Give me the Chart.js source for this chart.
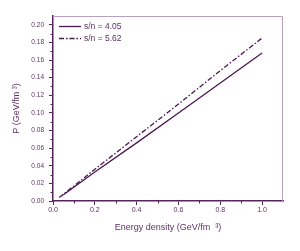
<!DOCTYPE html>
<html>
<head>
<meta charset="utf-8">
<script src="https://cdn.jsdelivr.net/npm/chart.js@4.4.0/dist/chart.umd.min.js"></script>
<style>
html,body{margin:0;padding:0;background:#fff;}
#wrap{width:300px;height:251px;}
</style>
</head>
<body>
<div id="wrap"><canvas id="eos"></canvas></div>
<script>

// ===== Data =====

const seriesNames = ["s/n = 4.05", "s/n = 5.62"];

const energyA   = [0.05, 0.2, 0.4, 0.6, 0.8, 1.0];
const pressureA = [0.007, 0.033, 0.066, 0.100, 0.134, 0.168];

const energyB   = [0.03, 0.2, 0.4, 0.6, 0.8, 1.0];
const pressureB = [0.004, 0.036, 0.073, 0.110, 0.148, 0.185];

const xTicks = [0.0, 0.2, 0.4, 0.6, 0.8, 1.0];
const yTicks = [0.00, 0.02, 0.04, 0.06, 0.08, 0.10, 0.12, 0.14, 0.16, 0.18, 0.20];
const xMinor = [0.1, 0.3, 0.5, 0.7, 0.9];
const yMinor = [0.01, 0.03, 0.05, 0.07, 0.09, 0.11, 0.13, 0.15, 0.17, 0.19];

const xTitle = "Energy density (GeV/fm  \u00B3)";
const yTitle = "P (GeV/fm \u00B3)";


// ===== Colours =====

const lineColor = "#4a1650";
const axisColor = "#55245c";
const textColor = "#5e3163";
const frameColor = "#b9a0c0";
const fontFamily = "Liberation Sans, Arial, sans-serif";

function toPoints(xs, ys){
    return xs.map((x,i)=>({x:x, y:ys[i]}));
}


// ===== Frame, minor ticks, legend =====

const framePlugin = {
    id:"frame",
    afterDraw(chart){
        const {ctx, chartArea:a, scales} = chart;
        ctx.save();
        ctx.strokeStyle = frameColor;
        ctx.lineWidth = 1;
        ctx.beginPath();
        ctx.moveTo(a.left, a.top + 0.5);
        ctx.lineTo(a.right - 0.5, a.top + 0.5);
        ctx.lineTo(a.right - 0.5, a.bottom);
        ctx.stroke();

        // minor ticks
        ctx.strokeStyle = axisColor;
        ctx.beginPath();
        xMinor.forEach(v=>{
            const px = Math.round(scales.x.getPixelForValue(v)) + 0.5;
            ctx.moveTo(px, a.bottom);
            ctx.lineTo(px, a.bottom + 2.5);
        });
        yMinor.forEach(v=>{
            const py = Math.round(scales.y.getPixelForValue(v)) + 0.5;
            ctx.moveTo(a.left, py);
            ctx.lineTo(a.left - 2.5, py);
        });
        ctx.stroke();

        // legend inside plot, top left
        ctx.font = "8.5px " + fontFamily;
        ctx.textBaseline = "middle";
        ctx.textAlign = "left";
        chart.data.datasets.forEach((ds,i)=>{
            const y = a.top + 10.5 + i*12;
            ctx.strokeStyle = ds.borderColor;
            ctx.lineWidth = ds.borderWidth;
            ctx.setLineDash(ds.borderDash || []);
            ctx.beginPath();
            ctx.moveTo(a.left + 6, y);
            ctx.lineTo(a.left + 28, y);
            ctx.stroke();
            ctx.setLineDash([]);
            ctx.fillStyle = textColor;
            ctx.fillText(ds.label, a.left + 31, y);
        });

        ctx.restore();
    }
};


// ===== Chart =====

const ctx = document.getElementById("eos").getContext("2d");

const eosChart = new Chart(ctx, {

    type:"scatter",

    data:{
        datasets:[
            {
                label:seriesNames[0],
                data:toPoints(energyA, pressureA),
                showLine:true,
                borderColor:lineColor,
                borderWidth:1.3,
                pointRadius:0,
                fill:false
            },
            {
                label:seriesNames[1],
                data:toPoints(energyB, pressureB),
                showLine:true,
                borderColor:lineColor,
                borderWidth:1.3,
                borderDash:[5,2,1.5,2],
                pointRadius:0,
                fill:false
            }
        ]
    },

    options:{
        responsive:true,
        maintainAspectRatio:false,
        animation:false,
        devicePixelRatio:1,
        layout:{padding:{top:16, right:17, left:0, bottom:0}},

        plugins:{
            tooltip:{enabled:false},
            legend:{display:false}
        },

        scales:{
            x:{
                type:"linear",
                min:0,
                max:1.1,
                afterBuildTicks:axis=>{ axis.ticks = xTicks.map(v=>({value:v})); },
                afterFit:axis=>{ axis.height = 50; },
                border:{color:axisColor, width:1.5},
                grid:{drawOnChartArea:false, drawTicks:true, tickLength:4, tickColor:axisColor, tickWidth:1},
                ticks:{
                    color:textColor,
                    padding:1,
                    maxRotation:0,
                    font:{family:fontFamily, size:7},
                    callback:v=>Number(v).toFixed(1)
                },
                title:{
                    display:true,
                    text:xTitle,
                    color:textColor,
                    padding:{top:0, bottom:17.6},
                    font:{family:fontFamily, size:9}
                }
            },
            y:{
                type:"linear",
                min:0,
                max:0.21,
                afterBuildTicks:axis=>{ axis.ticks = yTicks.map(v=>({value:v})); },
                afterFit:axis=>{ axis.width = 53; },
                border:{color:axisColor, width:1.5},
                grid:{drawOnChartArea:false, drawTicks:true, tickLength:4, tickColor:axisColor, tickWidth:1},
                ticks:{
                    color:textColor,
                    padding:5,
                    font:{family:fontFamily, size:6.5},
                    callback:v=>Number(v).toFixed(2)
                },
                title:{
                    display:true,
                    text:yTitle,
                    color:textColor,
                    padding:{top:11.6, bottom:0},
                    font:{family:fontFamily, size:9}
                }
            }
        }
    },

    plugins:[framePlugin]

});

</script>
</body>
</html>
